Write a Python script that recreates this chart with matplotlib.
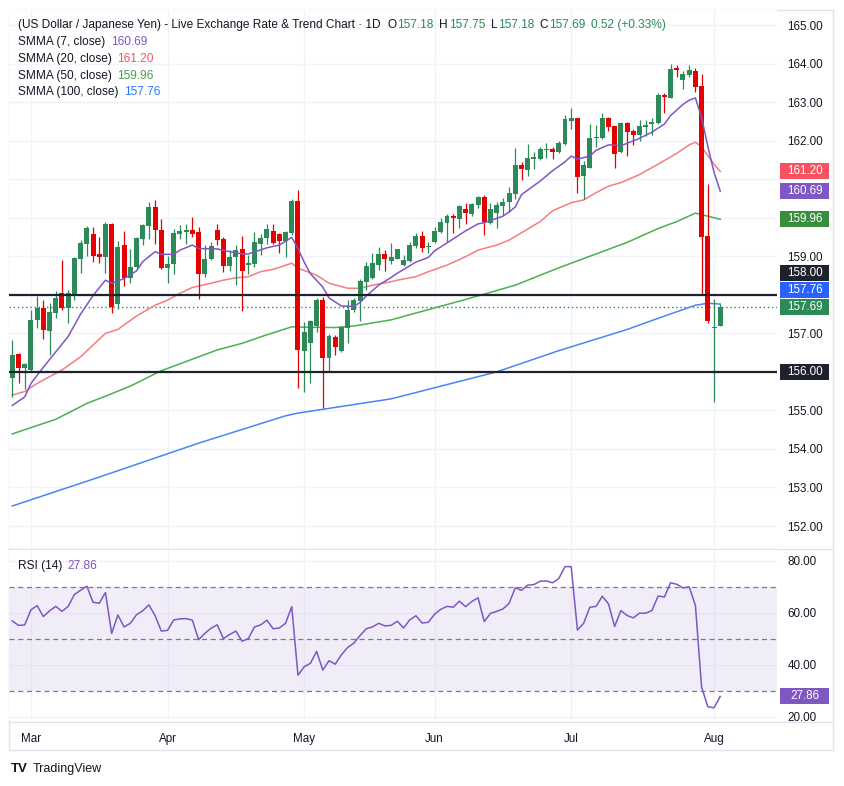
import matplotlib
matplotlib.use("Agg")
import matplotlib.pyplot as plt
from matplotlib.patches import Rectangle
from matplotlib.transforms import blended_transform_factory
from matplotlib.lines import Line2D
from matplotlib.text import Annotation

plt.rcParams['font.family'] = ['Liberation Sans', 'DejaVu Sans']

# ---------- data (daily bars, oldest first) ----------
opens = [155.84, 156.47, 156.11, 156.05, 157.35, 157.66, 157.07, 157.54, 158.04, 157.65,
         157.99, 158.93, 159.32, 159.58, 159.06, 158.99, 159.85, 157.75, 159.28, 158.43,
         158.71, 159.44, 159.78, 160.27, 159.68, 158.70, 158.80, 159.58, 159.64, 159.68,
         159.64, 158.54, 158.93, 159.68, 159.44, 158.75, 158.99, 159.18, 158.77, 158.80,
         159.32, 159.47, 159.66, 159.58, 159.40, 159.60, 160.43, 156.55, 156.76, 157.20,
         157.86, 156.37, 156.90, 156.54, 157.15, 157.60, 157.84, 158.34, 158.44, 158.77,
         159.06, 158.88, 158.93, 158.77, 158.88, 159.27, 159.53, 159.23, 159.38, 159.62,
         159.87, 160.05, 159.97, 160.23, 160.10, 160.33, 160.53, 159.87, 160.13, 160.30,
         160.42, 160.62, 161.37, 161.24, 161.53, 161.52, 161.76, 161.78, 161.70, 161.91,
         162.52, 162.58, 161.09, 161.30, 162.07, 162.08, 162.58, 162.38, 161.71, 162.47,
         162.25, 162.15, 162.36, 162.43, 162.47, 163.18, 163.11, 163.88, 163.57, 163.70,
         163.81, 163.42, 159.53, 157.13, 157.18]
highs = [156.83, 156.50, 156.24, 157.60, 157.98, 157.86, 157.80, 158.10, 158.90, 158.12,
         158.99, 159.42, 159.79, 159.75, 159.49, 159.88, 159.87, 159.40, 159.66, 159.19,
         159.51, 159.85, 160.40, 160.46, 159.96, 159.00, 159.72, 159.81, 159.84, 160.01,
         159.75, 159.29, 159.38, 159.85, 159.51, 159.16, 159.29, 159.53, 159.03, 159.64,
         159.58, 159.84, 159.84, 159.61, 159.66, 160.49, 160.72, 157.30, 157.35, 157.91,
         157.93, 156.98, 156.96, 157.19, 157.86, 157.91, 158.40, 158.86, 159.09, 159.25,
         159.16, 159.34, 159.19, 159.03, 159.36, 159.60, 159.66, 159.38, 159.77, 160.00,
         160.10, 160.09, 160.33, 160.37, 160.37, 160.56, 160.59, 160.37, 160.42, 160.50,
         160.79, 161.80, 161.44, 161.91, 161.71, 161.83, 161.93, 161.83, 162.00, 162.66,
         162.84, 162.58, 161.48, 162.43, 162.41, 162.72, 162.62, 162.38, 162.49, 162.49,
         162.30, 162.53, 162.53, 162.59, 163.24, 163.24, 163.98, 163.96, 163.81, 163.96,
         163.89, 163.72, 160.87, 157.89, 157.75]
lows = [155.35, 155.70, 155.55, 156.00, 157.15, 156.85, 156.45, 157.39, 157.60, 157.28,
        157.86, 158.57, 159.00, 158.86, 158.82, 158.57, 157.52, 157.62, 158.23, 158.30,
        158.66, 159.29, 159.45, 159.32, 158.67, 158.30, 158.54, 159.44, 159.32, 159.49,
        157.89, 158.47, 158.90, 159.29, 158.60, 158.62, 158.25, 157.59, 158.54, 158.73,
        159.03, 159.32, 159.32, 159.09, 158.97, 159.55, 155.57, 155.49, 155.72, 157.04,
        155.05, 156.03, 156.44, 156.52, 156.75, 157.56, 157.32, 158.12, 158.40, 158.64,
        158.62, 158.80, 158.92, 158.76, 158.86, 159.21, 159.12, 159.09, 159.34, 159.61,
        159.38, 159.61, 159.74, 159.84, 160.04, 160.26, 159.55, 159.84, 159.74, 160.07,
        160.16, 160.49, 160.98, 161.08, 161.26, 161.50, 161.54, 161.52, 161.69, 161.89,
        162.30, 160.65, 160.48, 161.28, 161.84, 162.03, 162.26, 161.30, 161.69, 161.60,
        161.89, 162.00, 162.12, 162.15, 162.43, 162.73, 163.10, 163.66, 163.34, 163.66,
        163.25, 158.00, 157.28, 155.23, 157.18]
closes = [156.44, 156.11, 156.20, 157.35, 157.66, 157.09, 157.55, 157.92, 157.65, 158.04,
          158.96, 159.35, 159.74, 159.01, 158.99, 159.85, 157.69, 159.23, 158.43, 158.71,
          159.47, 159.81, 160.27, 159.68, 158.70, 158.79, 159.60, 159.65, 159.68, 159.59,
          158.54, 158.93, 159.27, 159.42, 158.75, 158.97, 159.16, 158.63, 158.83, 159.38,
          159.48, 159.70, 159.35, 159.40, 159.62, 160.43, 156.57, 157.03, 157.33, 157.86,
          156.37, 156.93, 156.65, 157.17, 157.61, 157.86, 158.36, 158.75, 158.83, 159.06,
          158.92, 158.99, 159.19, 158.90, 159.29, 159.53, 159.22, 159.27, 159.66, 159.88,
          160.05, 160.00, 160.30, 160.13, 160.35, 160.53, 159.90, 160.22, 160.32, 160.41,
          160.63, 161.37, 161.26, 161.56, 161.58, 161.78, 161.79, 161.71, 161.93, 162.56,
          162.58, 161.06, 161.37, 162.06, 162.10, 162.58, 162.36, 161.65, 162.47, 162.23,
          162.15, 162.38, 162.40, 162.48, 163.18, 163.14, 163.86, 163.83, 163.73, 163.83,
          163.40, 159.51, 157.33, 157.17, 157.69]

# smoothed moving averages, sampled at bar numbers
s7_idx = [0, 2, 3, 5, 7, 9, 11, 13, 15, 16, 18, 20, 21, 23, 24, 26, 27, 29, 30, 33, 35, 37, 38,
          41, 43, 45, 46, 47, 48, 50, 51, 53, 55, 56, 57, 59, 61, 62, 65, 67, 68, 71, 73, 75,
          76, 79, 80, 81, 82, 85, 87, 89, 90, 91, 93, 94, 96, 98, 99, 101, 103, 105, 106, 108,
          109, 110, 111, 112, 113, 114]
s7_val = [155.13, 155.35, 155.7, 156.12, 156.52, 156.92, 157.5, 157.98, 158.38, 158.3, 158.42,
          158.62, 158.86, 159.12, 159.05, 159.05, 159.16, 159.29, 159.2, 159.19, 159.12, 159.06,
          159.06, 159.22, 159.29, 159.49, 159.2, 158.85, 158.55, 158.2, 157.92, 157.71, 157.70,
          157.8, 157.97, 158.25, 158.45, 158.56, 158.85, 158.97, 159.14, 159.45, 159.66, 159.84,
          159.87, 160.04, 160.15, 160.28, 160.6, 160.95, 161.22, 161.45, 161.6, 161.52, 161.6,
          161.75, 161.89, 161.87, 161.93, 162.06, 162.22, 162.43, 162.65, 162.94, 163.05, 163.11,
          162.6, 161.85, 161.18, 160.69]
s20_idx = [0, 2, 4, 8, 11, 15, 17, 18, 20, 23, 25, 27, 29, 32, 34, 36, 38, 40, 42, 45, 46, 49,
           51, 54, 56, 58, 61, 62, 65, 67, 70, 73, 75, 78, 80, 82, 85, 87, 90, 92, 94, 96, 98,
           101, 104, 107, 109, 110, 111, 112, 113, 114]
s20_val = [155.4, 155.49, 155.7, 156.05, 156.39, 157.0, 157.10, 157.22, 157.45, 157.73, 157.86,
           158.04, 158.19, 158.30, 158.38, 158.44, 158.47, 158.60, 158.66, 158.82, 158.69, 158.51,
           158.30, 158.17, 158.17, 158.25, 158.34, 158.38, 158.47, 158.60, 158.77, 158.99, 159.16,
           159.29, 159.42, 159.61, 159.90, 160.18, 160.39, 160.46, 160.65, 160.82, 160.91, 161.12,
           161.39, 161.67, 161.89, 161.96, 161.84, 161.61, 161.39, 161.20]
s50_idx = [0, 7, 12, 15, 19, 24, 29, 33, 37, 40, 45, 47, 52, 55, 61, 73, 81, 88, 96, 99, 104,
           107, 110, 112, 114]
s50_val = [154.39, 154.77, 155.18, 155.37, 155.63, 156.03, 156.33, 156.57, 156.74, 156.91, 157.17,
           157.16, 157.15, 157.19, 157.35, 157.88, 158.25, 158.7, 159.18, 159.36, 159.72, 159.90,
           160.12, 160.04, 159.96]
s100_idx = [0, 14, 30, 44, 46, 61, 78, 88, 99, 104, 110, 112, 114]
s100_val = [152.52, 153.27, 154.15, 154.86, 154.93, 155.30, 156.0, 156.55, 157.10, 157.39,
            157.73, 157.78, 157.76]

rsi = [56.9, 55.2, 55.4, 61.2, 62.8, 58.6, 60.8, 62.5, 60.6, 62.5,
       67.1, 68.7, 70.3, 64.1, 63.7, 67.8, 52.1, 59.2, 54.6, 56.0,
       59.3, 60.8, 63.1, 58.9, 53.0, 53.3, 57.3, 57.7, 57.8, 57.2,
       49.7, 52.1, 54.1, 55.4, 50.1, 51.7, 53.0, 49.1, 50.1, 54.6,
       55.4, 57.2, 53.9, 54.2, 56.0, 62.4, 36.0, 39.3, 40.6, 45.2,
       38.0, 41.6, 40.3, 43.9, 46.7, 48.4, 51.3, 53.9, 54.6, 56.0,
       55.0, 55.2, 56.8, 54.2, 57.3, 58.9, 56.1, 56.4, 59.5, 61.4,
       62.5, 62.2, 64.5, 62.4, 64.4, 65.8, 56.7, 59.8, 60.6, 61.5,
       63.7, 69.7, 68.7, 70.7, 70.9, 72.2, 72.3, 71.6, 73.2, 77.8,
       77.8, 53.4, 56.0, 62.2, 62.5, 66.4, 63.5, 54.8, 60.9, 59.0,
       58.1, 59.9, 59.9, 60.9, 66.5, 66.1, 71.6, 71.0, 69.6, 70.0,
       62.9, 31.4, 23.9, 23.5, 27.86]

months = ["Mar", "Apr", "May", "Jun", "Jul", "Aug"]
month_bar = [3, 25, 47, 68, 90, 113]
key_levels = [158.0, 156.0]
title = "(US Dollar / Japanese Yen) - Live Exchange Rate & Trend Chart · 1D"
change = "0.52 (+0.33%)"
rsi_last = 27.86

# ---------- style ----------
UP, DOWN = "#2b8a57", "#e60000"
C7, C20, C50, C100 = "#7e57c2", "#f77c80", "#4caf50", "#4a85f5"
V20, V50, V100 = "#f7525f", "#43a047", "#2979ff"
INK, GRID, EDGE = "#131722", "#f0f3fa", "#e0e3eb"
W, H = 844, 786
px_per_bar, x0 = 6.21, 12.3          # bar spacing / first bar centre, in pixels
PLO, PHI = 151.43, 165.39
RLO, RHI = 18.8, 84.2

fig = plt.figure(figsize=(W / 100, H / 100), dpi=100)
fig.patch.set_facecolor("white")

def fx(x): return x / W
def fy(y): return 1 - y / H

ax = fig.add_axes([fx(9), fy(548), (777 - 9) / W, (548 - 10) / H])
ar = fig.add_axes([fx(9), fy(720), (777 - 9) / W, (720 - 550) / H])
xl = ((9 - x0) / px_per_bar, (777 - x0) / px_per_bar)
ppx = (PHI - PLO) / (548 - 10)              # price units per pixel

# ---------- candles ----------
n = len(closes)
xs = list(range(n))
cols = [UP if c >= o else DOWN for o, c in zip(opens, closes)]
bot = [min(o, c) for o, c in zip(opens, closes)]
hgt = [max(abs(c - o), 0.03) for o, c in zip(opens, closes)]
ax.vlines(xs, lows, highs, colors=cols, lw=0.9, zorder=4)
ax.bar(xs, hgt, bottom=bot, width=0.8, color=cols, lw=0, zorder=5)

ax.plot(s100_idx, s100_val, color=C100, lw=1.1, zorder=3)
ax.plot(s50_idx, s50_val, color=C50, lw=1.1, zorder=3)
ax.plot(s20_idx, s20_val, color=C20, lw=1.1, zorder=3)
ax.plot(s7_idx, s7_val, color=C7, lw=1.1, zorder=6)

for lv in key_levels:
    ax.axhline(lv, color="#1e222d", lw=1.6, zorder=7)
ax.axhline(closes[-1], color=UP, lw=1.0, ls=(0, (1, 2)), zorder=2)

# price-scale tags, pushed apart upward when they would overlap (like TradingView)
tags = sorted([(s20_val[-1], V20), (s7_val[-1], C7), (s50_val[-1], "#388e3c"),
               (key_levels[0], "#1e222d"), (s100_val[-1], "#2962ff"),
               (closes[-1], UP), (key_levels[1], "#1e222d")])
tag_pos = []
prev = None
for v, c in tags:
    y = v if prev is None else max(v, prev + 17 * ppx)
    tag_pos.append((y, v, c))
    prev = y

ticks = list(range(152, 166))
ax.set_xlim(*xl)
ax.set_ylim(PLO, PHI)
ax.set_xticks(month_bar)
ax.set_yticks(ticks)
ax.set_yticklabels(["" if any(abs(t - y) < 10 * ppx for y, _, _ in tag_pos) else f"{t:.2f}"
                    for t in ticks])
ax.yaxis.tick_right()
ax.tick_params(axis="y", length=0, pad=7.5, labelsize=8.4, labelcolor=INK)
ax.tick_params(axis="x", length=0, labelbottom=False)
ax.grid(color=GRID, lw=1)
ax.set_axisbelow(True)
for s in ax.spines.values():
    s.set_visible(False)

# ---------- RSI ----------
ar.axhspan(30, 70, color=C7, alpha=0.1, lw=0, zorder=1)
for lv in (70, 50, 30):
    ar.axhline(lv, color="#787b86", lw=0.9, ls=(0, (4, 3)), zorder=2)
ar.plot(xs, rsi, color=C7, lw=1.1, zorder=4)
ar.set_xlim(*xl)
ar.set_ylim(RLO, RHI)
ar.set_yticks([20, 40, 60, 80])
ar.set_yticklabels(["20.00", "40.00", "60.00", "80.00"])
ar.yaxis.tick_right()
ar.tick_params(axis="y", length=0, pad=7.5, labelsize=8.4, labelcolor=INK)
ar.set_xticks(month_bar)
ar.set_xticklabels(months)
ar.tick_params(axis="x", length=0, pad=16, labelsize=8.4, labelcolor=INK)
for lbl in ar.get_xticklabels():
    lbl.set_verticalalignment("baseline")
ar.grid(color=GRID, lw=1)
ar.set_axisbelow(True)
for s in ar.spines.values():
    s.set_visible(False)

# ---------- frame ----------
fig.add_artist(Rectangle((fx(9), fy(750)), (833 - 9) / W, (750 - 10) / H, transform=fig.transFigure,
                         fill=False, ec=EDGE, lw=1, zorder=0))
for y in (549, 722):
    fig.add_artist(Line2D([fx(9), fx(833)], [fy(y), fy(y)], transform=fig.transFigure,
                          color=EDGE, lw=1, zorder=0))

# ---------- price-scale boxes ----------
def box(axis, y, text, color, h):
    tr = blended_transform_factory(fig.transFigure, axis.transData)
    axis.add_artist(Rectangle((fx(780), y - h / 2), 49 / W, h, transform=tr, fc=color, ec="none",
                              clip_on=False, zorder=20))
    axis.text(fx(804.5), y, text, transform=tr, color="white", fontsize=8.4, ha="center",
              va="center", zorder=21, clip_on=False)

for y, v, c in tag_pos:
    box(ax, y, f"{v:.2f}", c, 16 * ppx)
box(ar, rsi_last, f"{rsi_last:.2f}", C7, 16 * (RHI - RLO) / 170)

# ---------- legend text ----------
def chain(x, y, parts, size=8.6):
    t = fig.text(fx(x), fy(y), parts[0][0], color=parts[0][1], fontsize=size, va="bottom", ha="left")
    for s, c, gap in parts[1:]:
        t = fig.add_artist(Annotation(s, xy=(1, 0), xycoords=t, xytext=(gap, 0),
                                      textcoords="offset points", color=c, fontsize=size,
                                      va="bottom", ha="left", annotation_clip=False))
    return t

chain(18, 31, [(title, INK),
               ("O", INK, 5), (f"{opens[-1]:.2f}", UP, 0.5),
               ("H", INK, 4), (f"{highs[-1]:.2f}", UP, 0.5),
               ("L", INK, 4), (f"{lows[-1]:.2f}", UP, 0.5),
               ("C", INK, 4), (f"{closes[-1]:.2f}", UP, 0.5),
               (change, UP, 4)])
chain(18, 48, [("SMMA (7, close)", INK), (f"{s7_val[-1]:.2f}", C7, 4)])
chain(18, 65, [("SMMA (20, close)", INK), (f"{s20_val[-1]:.2f}", V20, 4)])
chain(18, 82, [("SMMA (50, close)", INK), (f"{s50_val[-1]:.2f}", V50, 4)])
chain(18, 98, [("SMMA (100, close)", INK), (f"{s100_val[-1]:.2f}", V100, 4)])
chain(18, 572, [("RSI (14)", INK), (f"{rsi_last:.2f}", C7, 4)])

# ---------- logo ----------
fig.text(fx(11), fy(769), "TV", fontsize=9.5, fontweight="heavy", color=INK, va="center", ha="left")
fig.text(fx(33), fy(769), "TradingView", fontsize=9, color=INK, va="center", ha="left")

fig.savefig("out.png", dpi=100)
